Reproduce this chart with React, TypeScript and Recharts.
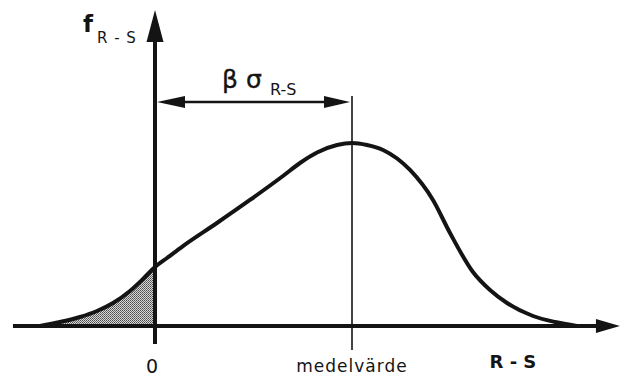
import React from "react";
import { ComposedChart, Line, Area, XAxis, YAxis, ReferenceLine } from "recharts";

// R - S values (units: 0 at the y axis, mean at 2)
const rsValues = [-1.168, -0.964, -0.761, -0.589, -0.426, -0.254, -0.122, 0, 0.122, 0.284, 0.629, 0.964, 1.299, 1.472, 1.645, 1.848, 2.0, 2.152, 2.315, 2.589, 2.822, 2.995, 3.228, 3.401, 3.574, 3.838, 4.061, 4.284];
// density f(R-S)
const density = [0, 0.0086, 0.0194, 0.0323, 0.0495, 0.0753, 0.1011, 0.1269, 0.1462, 0.172, 0.2215, 0.271, 0.3226, 0.3505, 0.3731, 0.3892, 0.3935, 0.3892, 0.3785, 0.3355, 0.271, 0.2, 0.1161, 0.0774, 0.0495, 0.0215, 0.0086, 0];

const xTicks = [0, 2];
const xTickLabels = ["0", "medelvärde"];
const meanValue = 2;

const data = rsValues.map((x, i) => ({
  x,
  f: density[i],
  tail: x <= 0 ? density[i] : null,
}));

const FONT = "'DejaVu Sans', sans-serif";
const INK = "#141414";

const XAxisShape = (p: any) => {
  const { x1, y1, x2 } = p;
  return (
    <g>
      <line x1={x1} y1={y1} x2={x2 - 20} y2={y1} stroke={INK} strokeWidth={4} />
      <polygon points={`${x2},${y1} ${x2 - 24},${y1 - 7} ${x2 - 24},${y1 + 7}`} fill={INK} />
      <text x={x2 - 107} y={y1 + 42} fontFamily={FONT} fontWeight="bold" fontSize={18} fill={INK} textAnchor="middle">R - S</text>
    </g>
  );
};

const YAxisShape = (p: any) => {
  const { x1, y1, y2 } = p;
  const top = Math.min(y1, y2);
  const bottom = Math.max(y1, y2);
  return (
    <g>
      <line x1={x1} y1={bottom} x2={x1} y2={top + 26} stroke={INK} strokeWidth={4} />
      <polygon points={`${x1},${top} ${x1 - 8.5},${top + 32} ${x1 + 8.5},${top + 32}`} fill={INK} />
      <text x={x1 - 72} y={top + 22} fontFamily={FONT} fontWeight="bold" fontSize={23} fill={INK}>f</text>
      <text x={x1 - 58} y={top + 33} fontFamily={FONT} fontSize={15} fill={INK} letterSpacing={1}>R - S</text>
    </g>
  );
};

const MeanShape = (p: any) => {
  const { x1, y1, y2 } = p;
  return <line x1={x1} y1={y1} x2={x1} y2={y2} stroke={INK} strokeWidth={1.6} />;
};

const BetaShape = (p: any) => {
  const { x1, y1, x2 } = p;
  const l = x1 + 2;
  const r = x2 - 2;
  return (
    <g>
      <line x1={l + 20} y1={y1} x2={r - 20} y2={y1} stroke={INK} strokeWidth={2.5} />
      <polygon points={`${l},${y1} ${l + 28},${y1 - 6} ${l + 28},${y1 + 6}`} fill={INK} />
      <polygon points={`${r},${y1} ${r - 26},${y1 - 6} ${r - 26},${y1 + 6}`} fill={INK} />
      <text x={x1 + 67} y={y1 - 14} fontFamily={FONT} fontSize={25} fill={INK} stroke={INK} strokeWidth={0.4}>β σ</text>
      <text x={x1 + 115} y={y1 - 7} fontFamily={FONT} fontSize={16} fill={INK}>R-S</text>
    </g>
  );
};

const TickLabel = (props: any) => {
  const { x, y, payload } = props;
  const idx = xTicks.indexOf(payload.value);
  const label = xTickLabels[idx] ?? String(payload.value);
  const isZero = idx === 0;
  return (
    <text
      x={x - (isZero ? 3 : 0)}
      y={y + (isZero ? 22 : 21)}
      textAnchor="middle"
      fontFamily={FONT}
      fontSize={isZero ? 19 : 17}
      letterSpacing={isZero ? 0 : 1}
      fill={INK}
    >
      {label}
    </text>
  );
};

export default function App() {
  return (
    <div style={{ position: "absolute", left: 0, top: 0, width: 621, height: 377, background: "#fff" }}>
      <ComposedChart width={621} height={377} data={data} margin={{ top: 0, right: 0, bottom: 0, left: 0 }}>
        <defs>
          <pattern id="dots" width="2" height="2" patternUnits="userSpaceOnUse">
            <rect x="0" y="0" width="2" height="2" fill="#d8d8d8" />
            <rect x="0" y="0" width="1" height="1" fill="#4a4a4a" />
            <rect x="1" y="1" width="1" height="1" fill="#6a6a6a" />
          </pattern>
        </defs>
        <XAxis
          dataKey="x"
          type="number"
          domain={[-155 / 98.5, 466 / 98.5]}
          allowDataOverflow
          ticks={xTicks}
          height={26}
          axisLine={false}
          tickLine={false}
          tickSize={0}
          tickMargin={0}
          tick={TickLabel}
          interval={0}
        />
        <YAxis type="number" hide domain={[-25 / 465, 326 / 465]} allowDataOverflow />
        <Area
          type="monotone"
          dataKey="tail"
          stroke="none"
          fill="url(#dots)"
          fillOpacity={1}
          baseValue={0}
          dot={false}
          activeDot={false}
          isAnimationActive={false}
          connectNulls={false}
        />
        <ReferenceLine segment={[{ x: -1.442, y: 0 }, { x: 4.72, y: 0 }]} shape={XAxisShape} />
        <ReferenceLine segment={[{ x: 0, y: -0.0387 }, { x: 0, y: 0.6796 }]} shape={YAxisShape} />
        <ReferenceLine segment={[{ x: meanValue, y: -0.0516 }, { x: meanValue, y: 0.4946 }]} shape={MeanShape} />
        <ReferenceLine segment={[{ x: 0, y: 0.4817 }, { x: meanValue, y: 0.4817 }]} shape={BetaShape} />
        <Line
          type="monotone"
          dataKey="f"
          stroke={INK}
          strokeWidth={4}
          dot={false}
          activeDot={false}
          isAnimationActive={false}
        />
      </ComposedChart>
    </div>
  );
}
